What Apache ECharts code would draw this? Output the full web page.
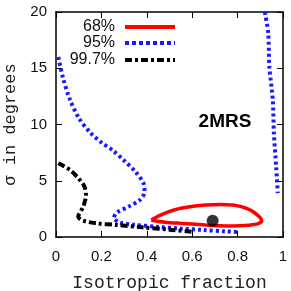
<!DOCTYPE html>
<html><head><meta charset="utf-8">
<script src="https://cdn.jsdelivr.net/npm/echarts@6/dist/echarts.min.js"></script>
<style>html,body{margin:0;padding:0;background:#fff}#c{width:291px;height:291px}</style>
</head><body><div id="c"></div>
<script>
// ---- data ----
const xTicks = [0, 0.2, 0.4, 0.6, 0.8, 1];
const yTicks = [0, 5, 10, 15, 20];
const legendNames = ['68%', '95%', '99.7%'];

const c68X = [0.42,0.46,0.52,0.59,0.66,0.72,0.78,0.84,0.88,0.906,0.89,0.85,0.78,0.72,0.66,0.60,0.546,0.48,0.44,0.42];
const c68Y = [1.51,1.95,2.40,2.68,2.84,2.90,2.84,2.55,2.08,1.45,1.18,1.05,0.98,1.00,1.07,1.15,1.22,1.32,1.42,1.51];

const c95aX = [0.01,0.03,0.06,0.10,0.15,0.20,0.25,0.30,0.35,0.385,0.39,0.37,0.32,0.27,0.255,0.28,0.34,0.45,0.55,0.65,0.75,0.80];
const c95aY = [16.0,14.2,12.3,10.6,9.3,8.4,7.7,6.8,5.8,4.8,4.0,3.3,2.7,2.2,1.7,1.3,1.1,0.9,0.75,0.62,0.5,0.45];
const c95bX = [0.92,0.935,0.94,0.955,0.96,0.97,0.977];
const c95bY = [20.0,18.1,15.1,12.2,9.2,6.2,3.9];

const c997X = [0.01,0.062,0.10,0.125,0.132,0.12,0.098,0.12,0.18,0.267,0.38,0.50,0.60];
const c997Y = [6.55,5.96,5.2,4.5,3.73,2.7,1.8,1.45,1.21,1.07,0.86,0.65,0.47];

const bestX = [0.69];
const bestY = [1.45];
const label2MRS = '2MRS';

// ---- build ----
const zip = (xs, ys) => xs.map((x, i) => [x, ys[i]]);
const chart = echarts.init(document.getElementById('c'), null, {renderer: 'canvas'});
const sans = 'Liberation Sans, Arial, sans-serif';
const mono = 'Liberation Mono, DejaVu Sans Mono, monospace';
const axisCommon = {
  type: 'value',
  axisLine: {show: true, onZero: false, lineStyle: {color: '#000', width: 1.5}},
  axisTick: {show: true, inside: true, length: 6, lineStyle: {color: '#000', width: 1}},
  splitLine: {show: false}
};
const dash95 = [3, 3];
const dash997 = [7, 3, 3, 3];
const lineSeries = (name, data, color, width, type) => ({
  name, type: 'line', data, showSymbol: false, symbol: 'none', smooth: 0.3,
  lineStyle: {color, width, type}, clip: true, z: 3, xAxisIndex: 0, yAxisIndex: 0
});

chart.setOption({
  animation: false,
  backgroundColor: '#fff',
  grid: {left: 56, right: 8, top: 12, bottom: 54, containLabel: false, outerBoundsMode: 'none'},
  xAxis: [
    Object.assign({}, axisCommon, {min: 0, max: 1, interval: 0.2, position: 'bottom',
      name: 'Isotropic fraction', nameLocation: 'middle', nameGap: 37,
      nameTextStyle: {fontFamily: mono, fontSize: 18, color: '#222'},
      axisLabel: {fontFamily: sans, fontSize: 15, color: '#111', margin: 12,
        formatter: v => xTicks.includes(+v.toFixed(1)) ? String(+v.toFixed(1)) : ''}}),
    Object.assign({}, axisCommon, {min: 0, max: 1, interval: 0.2, position: 'top', axisLabel: {show: false}})
  ],
  yAxis: [
    Object.assign({}, axisCommon, {min: 0, max: 20, interval: 5, position: 'left',
      name: 'σ in degrees', nameLocation: 'middle', nameGap: 34, nameRotate: 90,
      nameTextStyle: {fontFamily: mono, fontSize: 17, color: '#222'},
      axisLabel: {fontFamily: sans, fontSize: 15, color: '#111', margin: 9,
        formatter: v => yTicks.includes(v) ? String(v) : ''}}),
    Object.assign({}, axisCommon, {min: 0, max: 20, interval: 5, position: 'right', axisLabel: {show: false}})
  ],
  series: [
    lineSeries(legendNames[0], zip(c68X, c68Y), '#ff0000', 3.5, 'solid'),
    lineSeries(legendNames[1], zip(c95aX, c95aY), '#1a1aff', 4, dash95),
    lineSeries(legendNames[1] + 'b', zip(c95bX, c95bY), '#1a1aff', 4, dash95),
    lineSeries(legendNames[2], zip(c997X, c997Y), '#000', 4, dash997),
    {type: 'scatter', data: zip(bestX, bestY), symbol: 'circle', symbolSize: 12,
      itemStyle: {color: '#000'}, z: 4}
  ],
  graphic: [
    {type: 'text', x: 115, y: 27, style: {text: legendNames[0], font: '16px ' + sans, fill: '#111', textAlign: 'right', textVerticalAlign: 'middle'}},
    {type: 'text', x: 115, y: 43, style: {text: legendNames[1], font: '16px ' + sans, fill: '#111', textAlign: 'right', textVerticalAlign: 'middle'}},
    {type: 'text', x: 115, y: 60, style: {text: legendNames[2], font: '16px ' + sans, fill: '#111', textAlign: 'right', textVerticalAlign: 'middle'}},
    {type: 'line', shape: {x1: 125, y1: 27, x2: 175, y2: 27}, style: {stroke: '#ff0000', lineWidth: 4}},
    {type: 'line', shape: {x1: 125, y1: 43, x2: 175, y2: 43}, style: {stroke: '#1a1aff', lineWidth: 4, lineDash: [4, 3]}},
    {type: 'line', shape: {x1: 125, y1: 60, x2: 175, y2: 60}, style: {stroke: '#000', lineWidth: 4, lineDash: [7, 3, 3, 3]}},
    {type: 'text', x: 225, y: 122, style: {text: label2MRS, font: 'bold 19px ' + sans, fill: '#000', textAlign: 'center', textVerticalAlign: 'middle'}}
  ]
});
</script></body></html>
